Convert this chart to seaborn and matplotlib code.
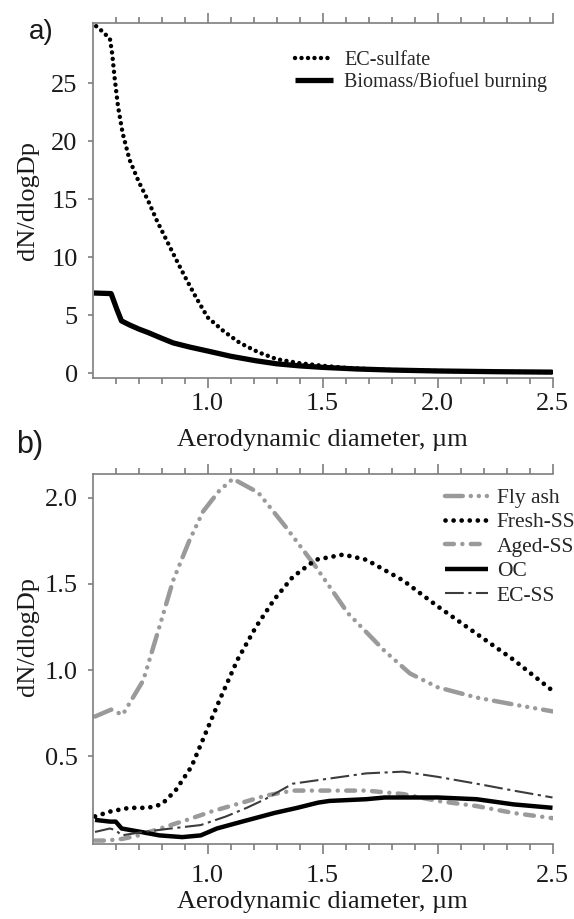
import numpy as np
import pandas as pd
import matplotlib
matplotlib.use("Agg")
import matplotlib.pyplot as plt
from matplotlib.ticker import FixedLocator, NullLocator, FormatStrFormatter
import seaborn as sns

sns.set_theme(style="ticks")
plt.rcParams["font.family"] = ["Liberation Serif", "DejaVu Serif"]
plt.rcParams["xtick.minor.visible"] = True

# ---- panel a: size distributions ----
ec_sulfate_x = [0.515, 0.545, 0.575, 0.585, 0.595, 0.61, 0.63, 0.66, 0.70, 0.74, 0.78,
                0.82, 0.86, 0.90, 0.95, 1.00, 1.07, 1.14, 1.22, 1.30, 1.40, 1.50, 1.60,
                1.75, 1.90, 2.10, 2.30, 2.50]
ec_sulfate_y = [29.9, 29.4, 28.8, 27.5, 25.5, 23.0, 20.7, 18.4, 16.5, 14.9, 13.1,
                11.5, 9.9, 8.35, 6.5, 4.8, 3.6, 2.6, 1.8, 1.2, 0.85, 0.63, 0.45,
                0.3, 0.22, 0.15, 0.1, 0.08]

biomass_x = [0.505, 0.58, 0.605, 0.625, 0.66, 0.70, 0.74, 0.80, 0.85, 0.92, 1.00, 1.10,
             1.21, 1.30, 1.40, 1.50, 1.65, 1.80, 2.00, 2.25, 2.50]
biomass_y = [6.9, 6.85, 5.5, 4.5, 4.15, 3.8, 3.5, 3.0, 2.6, 2.25, 1.9, 1.45,
             1.06, 0.8, 0.62, 0.49, 0.35, 0.26, 0.18, 0.12, 0.08]

# ---- panel b: size distributions ----
flyash_x = [0.51, 0.58, 0.63, 0.72, 0.79, 0.85, 0.92, 0.98, 1.05, 1.11, 1.22, 1.34,
            1.47, 1.61, 1.77, 1.88, 2.00, 2.17, 2.33, 2.50]
flyash_y = [0.73, 0.77, 0.74, 0.94, 1.25, 1.52, 1.75, 1.92, 2.04, 2.11, 2.03, 1.83,
            1.60, 1.33, 1.11, 0.98, 0.90, 0.84, 0.80, 0.76]

fresh_ss_x = [0.51, 0.58, 0.66, 0.74, 0.80, 0.86, 0.93, 0.99, 1.05, 1.13, 1.21, 1.29,
              1.37, 1.47, 1.59, 1.69, 1.85, 2.00, 2.17, 2.33, 2.50]
fresh_ss_y = [0.15, 0.18, 0.20, 0.20, 0.22, 0.30, 0.44, 0.63, 0.82, 1.06, 1.25, 1.41,
              1.54, 1.64, 1.67, 1.64, 1.52, 1.37, 1.21, 1.06, 0.88]

aged_ss_x = [0.51, 0.56, 0.63, 0.70, 0.77, 0.84, 0.91, 1.02, 1.15, 1.25, 1.37, 1.53,
             1.69, 1.85, 2.00, 2.17, 2.33, 2.50]
aged_ss_y = [0.01, 0.01, 0.02, 0.04, 0.07, 0.10, 0.13, 0.18, 0.23, 0.27, 0.30, 0.30,
             0.30, 0.28, 0.24, 0.21, 0.17, 0.14]

oc_x = [0.51, 0.575, 0.60, 0.626, 0.71, 0.79, 0.89, 0.97, 1.04, 1.15, 1.29, 1.39,
        1.48, 1.53, 1.69, 1.77, 2.00, 2.17, 2.33, 2.50]
oc_y = [0.13, 0.12, 0.12, 0.08, 0.06, 0.04, 0.03, 0.04, 0.08, 0.12, 0.17, 0.20,
        0.23, 0.24, 0.25, 0.26, 0.26, 0.25, 0.22, 0.20]

ec_ss_x = [0.51, 0.575, 0.60, 0.626, 0.72, 0.84, 0.97, 1.08, 1.17, 1.25, 1.37, 1.53,
           1.69, 1.85, 2.00, 2.17, 2.33, 2.50]
ec_ss_y = [0.06, 0.08, 0.07, 0.04, 0.06, 0.08, 0.10, 0.15, 0.20, 0.25, 0.34, 0.37,
           0.40, 0.41, 0.38, 0.34, 0.30, 0.26]

x_major_ticks = [1.0, 1.5, 2.0, 2.5]
x_minor_ticks = [0.6, 0.7, 0.8, 0.9, 1.1, 1.2, 1.3, 1.4, 1.6, 1.7, 1.8, 1.9,
                 2.1, 2.2, 2.3, 2.4]
a_y_ticks = [0, 5, 10, 15, 20, 25]
b_y_ticks = [0.5, 1.0, 1.5, 2.0]

GRAY = "#9a9a9a"
SPINE = "#7e7e7e"
TEXT = "#1a1a1a"
W, H = 574, 919
fig = plt.figure(figsize=(W / 100, H / 100), dpi=100)


def rect(left, top, right, bottom):
    return [left / W, 1 - bottom / H, (right - left) / W, (bottom - top) / H]


ax_a = fig.add_axes(rect(92.7, 22.7, 552.5, 377.7))
ax_b = fig.add_axes(rect(92.7, 474.3, 552.5, 844.0))


def draw(ax, x, y, label, **kw):
    sns.lineplot(x=x, y=y, ax=ax, label=label, sort=False, estimator=None, **kw)


draw(ax_a, ec_sulfate_x, ec_sulfate_y, "EC-sulfate", color="black", linewidth=3.2,
     linestyle=(0, (0.01, 1.45)), dash_capstyle="round")
draw(ax_a, biomass_x, biomass_y, "Biomass/Biofuel burning", color="black",
     linewidth=3.8, solid_capstyle="butt", solid_joinstyle="round")

draw(ax_b, flyash_x, flyash_y, "Fly ash", color=GRAY, linewidth=3.2,
     linestyle=(0, (4.0, 1.8, 0.01, 1.8, 0.01, 1.8, 0.01, 1.8)), dash_capstyle="round")
draw(ax_b, fresh_ss_x, fresh_ss_y, "Fresh-SS", color="black", linewidth=3.4,
     linestyle=(0, (0.01, 1.7)), dash_capstyle="round")
draw(ax_b, aged_ss_x, aged_ss_y, "Aged-SS", color=GRAY, linewidth=3.2,
     linestyle=(0, (2.0, 1.9, 0.01, 1.9)), dash_capstyle="round")
draw(ax_b, oc_x, oc_y, "OC", color="black", linewidth=3.2,
     solid_capstyle="butt", solid_joinstyle="round")
draw(ax_b, ec_ss_x, ec_ss_y, "EC-SS", color="#3c3c3c", linewidth=1.5,
     linestyle=(0, (9, 2.2, 1.5, 2.2)))

for ax in (ax_a, ax_b):
    ax.set_xlim(0.5, 2.5)
    ax.xaxis.set_major_locator(FixedLocator(x_major_ticks))
    ax.xaxis.set_minor_locator(FixedLocator(x_minor_ticks))
    ax.yaxis.set_minor_locator(NullLocator())
    ax.xaxis.set_major_formatter(FormatStrFormatter("%.1f"))
    ax.tick_params(axis="x", which="major", top=True, bottom=True, direction="out",
                   length=7.0, width=1.2, color=SPINE, labelsize=19, labelcolor=TEXT)
    ax.tick_params(axis="x", which="minor", top=True, bottom=True, direction="out",
                   length=4.0, width=1.2, color=SPINE)
    ax.tick_params(axis="y", which="major", left=True, right=False, direction="out",
                   length=3.3, width=1.2, color=SPINE, labelsize=19,
                   labelcolor=TEXT, pad=7.5)
    for side in ("left", "bottom", "top"):
        ax.spines[side].set_color(SPINE)
        ax.spines[side].set_linewidth(1.2)
    ax.spines["right"].set_visible(False)
    ax.set_facecolor("white")

ax_a.set_ylim(-0.4, 30.2)
ax_a.yaxis.set_major_locator(FixedLocator(a_y_ticks))
ax_a.tick_params(axis="x", which="major", pad=4.0)

ax_b.set_ylim(-0.01, 2.136)
ax_b.yaxis.set_major_locator(FixedLocator(b_y_ticks))
ax_b.yaxis.set_major_formatter(FormatStrFormatter("%.1f"))
ax_b.tick_params(axis="x", which="major", pad=8.0)

xlabel = "Aerodynamic diameter, \u00b5m"
ax_a.set_xlabel(xlabel, fontsize=19, color=TEXT, va="center")
ax_a.xaxis.set_label_coords(0.5, (377.7 - 440) / 355.0)
ax_b.set_xlabel(xlabel, fontsize=19, color=TEXT, va="center")
ax_b.xaxis.set_label_coords(0.5, (844 - 902) / 369.7)

ax_a.set_ylabel("dN/dlogDp", fontsize=19, color=TEXT, va="center")
ax_a.yaxis.set_label_coords((27.5 - 92.7) / 459.8, (377.7 - 200) / 355.0)
ax_b.set_ylabel("dN/dlogDp", fontsize=19, color=TEXT, va="center")
ax_b.yaxis.set_label_coords((27.5 - 92.7) / 459.8, (844 - 637) / 369.7)

ax_a.legend(loc="upper left", bbox_to_anchor=((295 - 92.7) / 459.8, (377.7 - 51) / 355.0),
            frameon=False, borderaxespad=0, borderpad=0, fontsize=14.5,
            handlelength=1.9, handletextpad=0.55, labelspacing=0.12)
ax_b.legend(loc="upper left", bbox_to_anchor=((445 - 92.7) / 459.8, (844 - 488) / 369.7),
            frameon=False, borderaxespad=0, borderpad=0, fontsize=15.5,
            handlelength=2.0, handletextpad=0.4, labelspacing=0.2)

fig.text(41 / W, 1 - 32 / H, "a)", fontsize=20, family=["Liberation Sans", "DejaVu Sans"],
         ha="center", va="center", color=TEXT)
fig.text(30 / W, 1 - 445 / H, "b)", fontsize=22, family=["Liberation Sans", "DejaVu Sans"],
         ha="center", va="center", color=TEXT)

fig.savefig("out.png", dpi=100, facecolor="white")
